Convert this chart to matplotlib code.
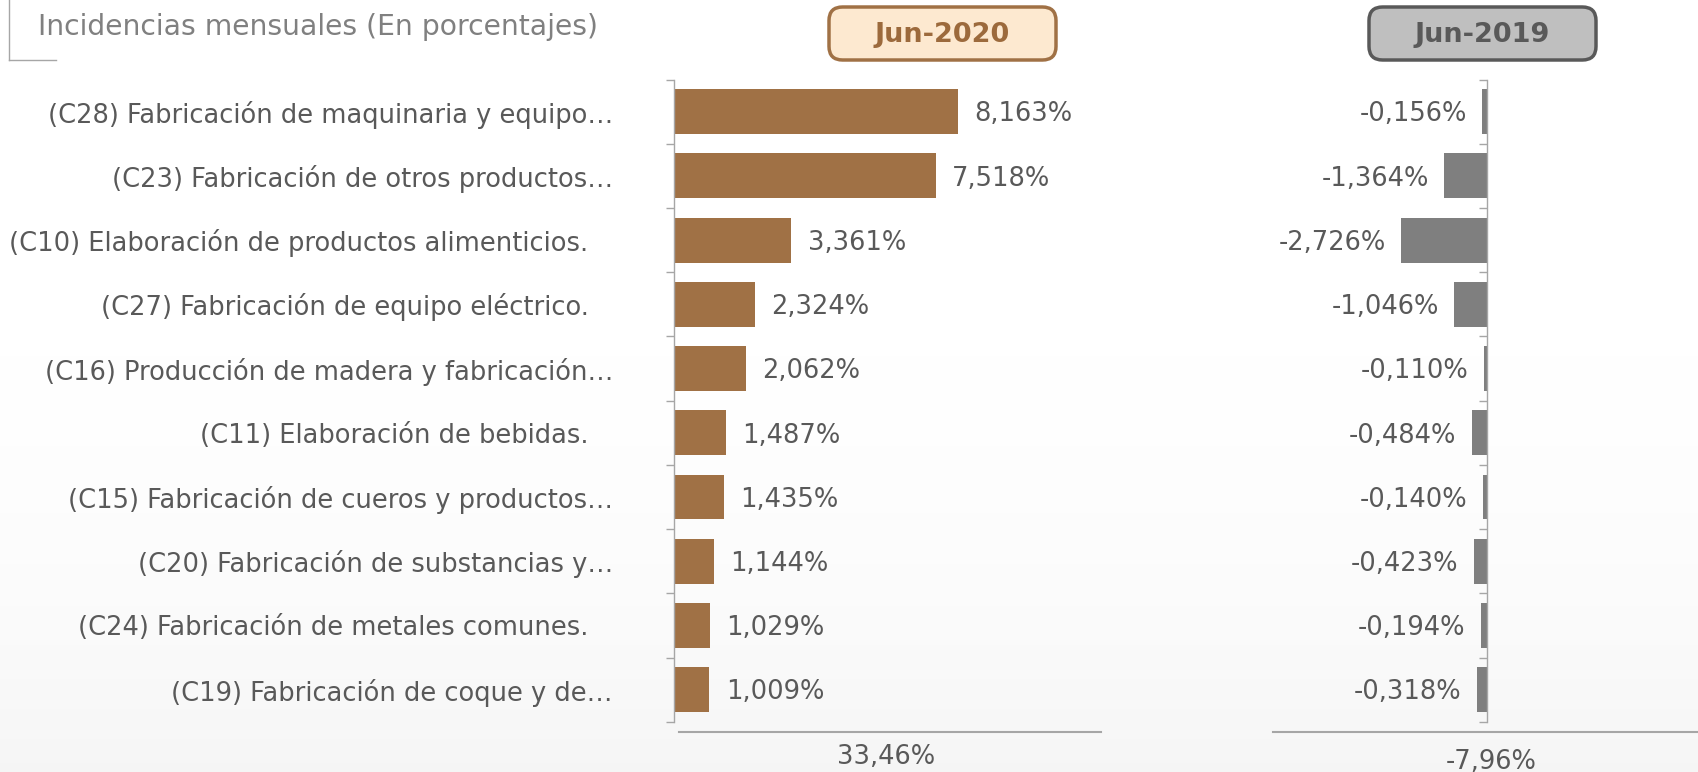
import numpy as np
import matplotlib.pyplot as plt
from matplotlib.patches import FancyBboxPatch
from matplotlib.lines import Line2D

plt.rcParams.update({
    'font.family': ['DejaVu Sans'],
})

categories = [
    "(C28) Fabricación de maquinaria y equipo…",
    "(C23) Fabricación de otros productos…",
    "(C10) Elaboración de productos alimenticios.   ",
    "(C27) Fabricación de equipo eléctrico.   ",
    "(C16) Producción de madera y fabricación…",
    "(C11) Elaboración de bebidas.   ",
    "(C15) Fabricación de cueros y productos…",
    "(C20) Fabricación de substancias y…",
    "(C24) Fabricación de metales comunes.   ",
    "(C19) Fabricación de coque y de…",
]
jun_2020 = [8.163, 7.518, 3.361, 2.324, 2.062, 1.487, 1.435, 1.144, 1.029, 1.009]
jun_2019 = [-0.156, -1.364, -2.726, -1.046, -0.110, -0.484, -0.140, -0.423, -0.194, -0.318]
total_2020 = 33.46
total_2019 = -7.96
title = "Incidencias mensuales (En porcentajes)"
period_labels = ["Jun-2020", "Jun-2019"]

TEXT = '#595959'
BROWN = '#A07145'
GREY = '#7F7F7F'
FS = 18.5

W, H = 1699, 772
fig = plt.figure(figsize=(W / 100, H / 100), dpi=100)

# faint background shading towards the bottom
bg = fig.add_axes([0, 0, 1, 1], zorder=-10)
grad = np.linspace(0, 1, 256)[:, None] ** 3
bg.imshow(1 - 0.04 * grad, cmap='gray', vmin=0, vmax=1, aspect='auto', extent=(0, 1, 0, 1),
          origin='upper')
bg.axis('off')


def fmt(v, nd=3):
    return f"{v:.{nd}f}".replace('.', ',') + '%'


def px_axes(x0, x1, y_top, y_bot):
    return fig.add_axes([x0 / W, 1 - y_bot / H, (x1 - x0) / W, (y_bot - y_top) / H])


ypos = np.arange(len(categories))


def style_axis(ax):
    ax.set_ylim(len(categories) - 0.5, -0.5)
    for s in ['top', 'right', 'bottom']:
        ax.spines[s].set_visible(False)
    ax.spines['left'].set_color('#A6A6A6')
    ax.spines['left'].set_linewidth(1.0)
    ax.set_yticks(np.arange(-0.5, len(categories)), [''] * (len(categories) + 1))
    ax.tick_params(axis='y', which='major', length=6, color='#A6A6A6', width=1.0)
    ax.set_xticks([])
    ax.patch.set_alpha(0)


# left panel: Jun-2020
ax1 = px_axes(674, 674 + 348, 79.5, 721.8)
ax1.set_xlim(0, 10)
ax1.barh(ypos, jun_2020, height=0.7, color=BROWN)
style_axis(ax1)
ax1.set_yticks(ypos, categories, minor=True)
ax1.tick_params(axis='y', which='minor', length=0, pad=44, labelsize=FS, labelcolor=TEXT)
for y, v in zip(ypos, jun_2020):
    ax1.annotate(fmt(v), (v, y), xytext=(12, -2), textcoords='offset points',
                 ha='left', va='center', fontsize=FS, color=TEXT)

# right panel: Jun-2019
ax2 = px_axes(1487 - 3.5 * 31.5, 1487 + 0.5 * 31.5, 79.5, 721.8)
ax2.set_xlim(-3.5, 0.5)
ax2.barh(ypos, jun_2019, height=0.7, color=GREY)
style_axis(ax2)
ax2.spines['left'].set_position(('data', 0))
for y, v in zip(ypos, jun_2019):
    ax2.annotate(fmt(v), (v, y), xytext=(-11, -2), textcoords='offset points',
                 ha='right', va='center', fontsize=FS, color=TEXT)

# title with corner bracket
fig.text(38 / W, 1 - 27 / H, title, fontsize=20.3, color='#808080', va='center', ha='left')
fig.add_artist(Line2D([9 / W, 9 / W], [1, 1 - 60 / H], color='#A6A6A6', lw=1.0))
fig.add_artist(Line2D([9 / W, 56 / W], [1 - 60 / H, 1 - 60 / H], color='#A6A6A6', lw=1.0))

# period boxes
boxes = [
    (829, 1056, '#FDE9D0', '#A07145', '#9C6A3C'),
    (1369, 1596, '#BFBFBF', '#595959', '#595959'),
]
for (x0, x1, fc, ec, tc), lab in zip(boxes, period_labels):
    y0, y1 = 7, 60
    fig.add_artist(FancyBboxPatch((x0 / W, 1 - y1 / H), (x1 - x0) / W, (y1 - y0) / H,
                                  boxstyle='round,pad=0,rounding_size=0.008',
                                  transform=fig.transFigure, fc=fc, ec=ec, lw=2.5,
                                  mutation_aspect=W / H))
    fig.text((x0 + x1) / 2 / W, 1 - (y0 + y1 + 2) / 2 / H, lab, fontsize=19.5, fontweight='bold',
             color=tc, ha='center', va='center')

# totals
fig.add_artist(Line2D([679 / W, 1101 / W], [1 - 732 / H] * 2, color='#A6A6A6', lw=1.5))
fig.add_artist(Line2D([1273 / W, 1699 / W], [1 - 732 / H] * 2, color='#A6A6A6', lw=1.5))
fig.text(886 / W, 1 - 757 / H, fmt(total_2020, 2), fontsize=FS, color=TEXT, ha='center', va='center')
fig.text(1491 / W, 1 - 762 / H, fmt(total_2019, 2), fontsize=FS, color=TEXT, ha='center', va='center')

fig.savefig('out.png', dpi=100)
